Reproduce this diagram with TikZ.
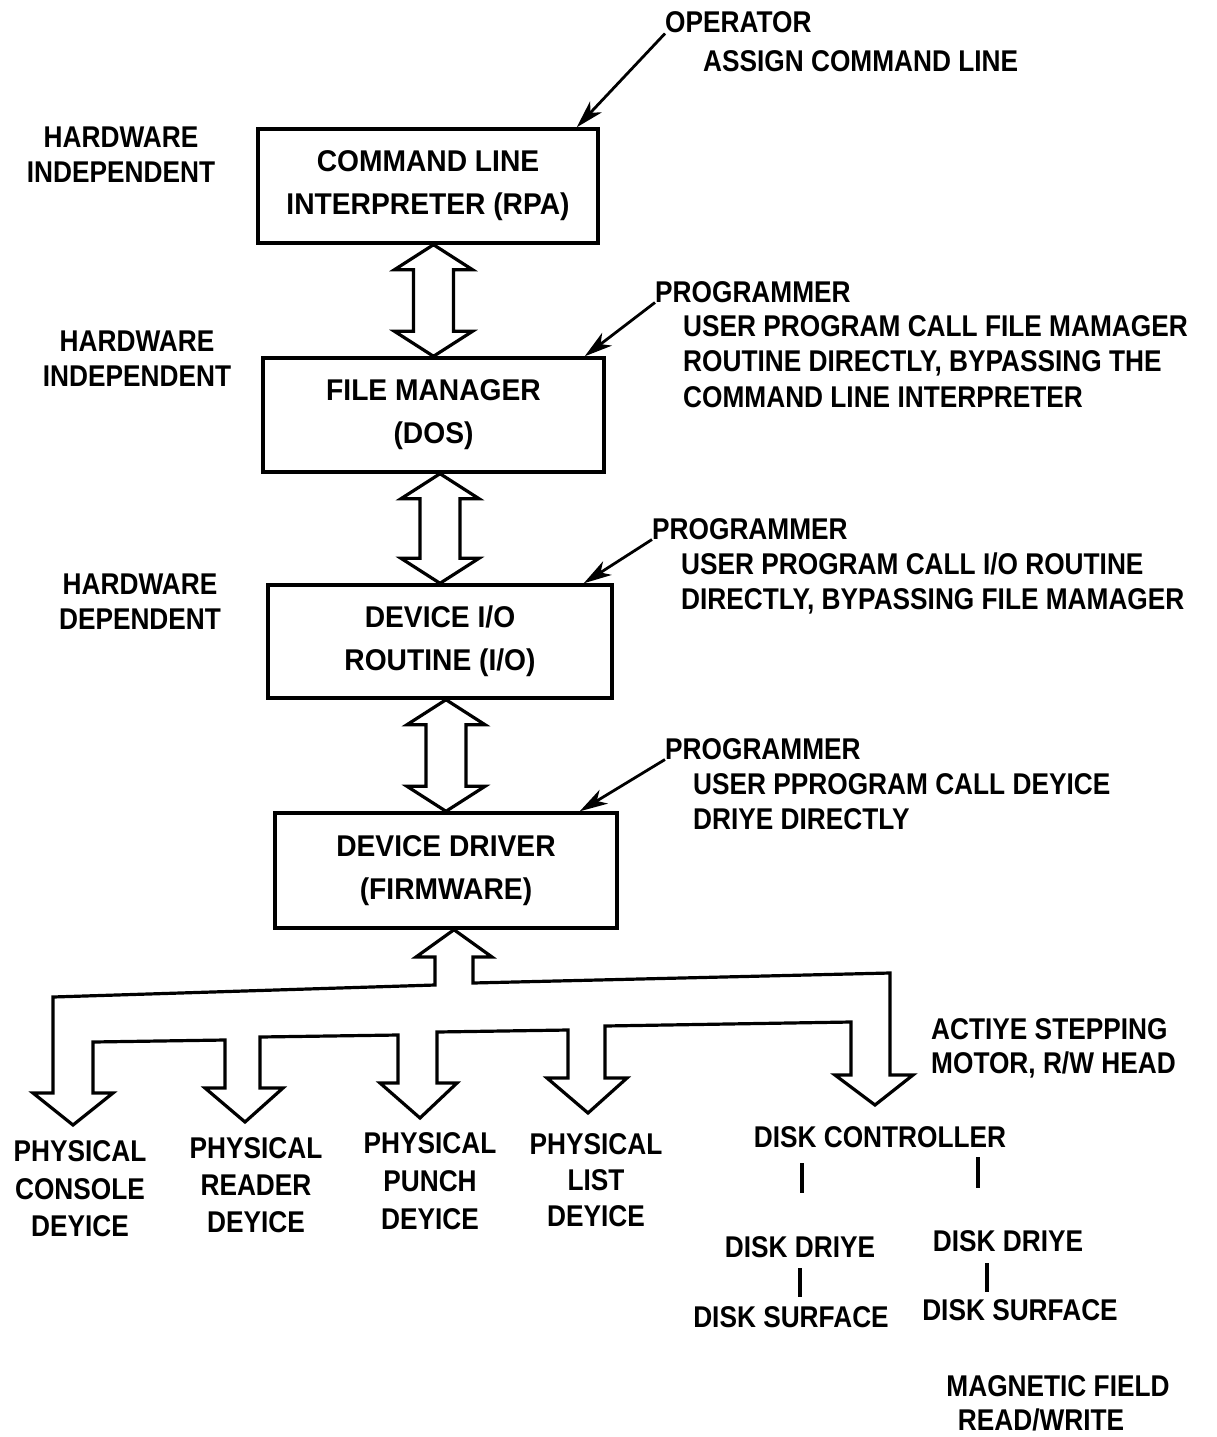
\documentclass[tikz,border=0pt]{standalone}
\usepackage{fontspec}
\newfontfamily\labfont{Liberation Sans}[FakeStretch=0.875]
\newfontfamily\boxfont{Liberation Sans}[FakeStretch=0.94]
\usetikzlibrary{arrows.meta,calc}
\newcommand\dblarrow[2]{%
  \draw[hollow] let \p1=(#1.south), \p2=(#2.north) in
   (\x2,\y1) -- (\x2+39pt,\y1-25pt) -- (\x2+20pt,\y1-25pt) -- (\x2+20pt,\y2+25pt)
   -- (\x2+39pt,\y2+25pt) -- (\x2,\y2) -- (\x2-39pt,\y2+25pt) -- (\x2-20pt,\y2+25pt)
   -- (\x2-20pt,\y1-25pt) -- (\x2-39pt,\y1-25pt) -- cycle;}
\begin{document}
\begin{tikzpicture}[x=1pt,y=-1pt,
  lab/.style={font=\labfont\bfseries\fontsize{30}{#1}\selectfont, inner sep=0pt, align=center},
  lab/.default=35,
  lw/.style={font=\labfont\bfseries\fontsize{30}{35}\selectfont, inner sep=0pt, anchor=base west},
  box/.style={draw, line width=3.4pt, inner sep=0pt, align=center,
    font=\boxfont\bfseries\fontsize{30}{43}\selectfont},
  hollow/.style={draw, line width=3.2pt, line join=miter, fill=white},
  callout/.style={line width=2.8pt, -{Stealth[length=28pt,width=16pt,inset=8pt]}},
  bar/.style={line width=4pt}]
\useasboundingbox (0,0) rectangle (1216,1437);

% boxes
\node[box, minimum width=340pt, minimum height=114pt] (b1) at (428,186) {COMMAND LINE\\INTERPRETER (RPA)};
\node[box, minimum width=341pt, minimum height=114pt] (b2) at (433.5,415) {FILE MANAGER\\(DOS)};
\node[box, minimum width=344pt, minimum height=113pt] (b3) at (440,641.5) {DEVICE I/O\\ROUTINE (I/O)};
\node[box, minimum width=342pt, minimum height=115pt] (b4) at (446,870.5) {DEVICE DRIVER\\(FIRMWARE)};

% double arrows
\dblarrow{b1}{b2}
\dblarrow{b2}{b3}
\dblarrow{b3}{b4}

% left labels
\node[lab] (hw1) at (121,155) {HARDWARE\\INDEPENDENT};
\node[lab] (hw2) at (137,359) {HARDWARE\\INDEPENDENT};
\node[lab] (hw3) at (140,602) {HARDWARE\\DEPENDENT};

% callouts
\node[lw] (op) at (665,33) {OPERATOR};
\node[lw] (opa) at (703,71) {ASSIGN COMMAND LINE};
\draw[callout] (op.south west) -- ([xshift=-23pt]b1.north east);

\node[lw] (p1) at (655,302) {PROGRAMMER};
\node[lw] (p1a) at (683,336) {USER PROGRAM CALL FILE MAMAGER};
\node[lw] (p1b) at (683,371) {ROUTINE DIRECTLY, BYPASSING THE};
\node[lw] (p1c) at (683,407) {COMMAND LINE INTERPRETER};
\draw[callout] (p1.south west) -- ([xshift=-21pt]b2.north east);

\node[lw] (p2) at (652,539) {PROGRAMMER};
\node[lw] (p2a) at (681,574) {USER PROGRAM CALL I/O ROUTINE};
\node[lw] (p2b) at (681,609) {DIRECTLY, BYPASSING FILE MAMAGER};
\draw[callout] (p2.south west) -- ([xshift=-30pt]b3.north east);

\node[lw] (p3) at (665,759) {PROGRAMMER};
\node[lw] (p3a) at (693,794) {USER PPROGRAM CALL DEYICE};
\node[lw] (p3b) at (693,829) {DRIYE DIRECTLY};
\draw[callout] (p3.south west) -- ([xshift=-39pt]b4.north east);

% bus with device arrows
\draw[hollow] ([xshift=8pt]b4.south) -- (492,957) -- (473,957) -- (473,983)
  -- (890,973) -- (890,1075) -- (913,1075) -- (875,1105) -- (835,1075) -- (851,1075)
  -- (851,1022) -- (605,1026) -- (605,1078) -- (627,1078) -- (588,1113) -- (547,1078)
  -- (568,1078) -- (568,1030) -- (437,1032) -- (437,1083) -- (457,1083) -- (420,1118)
  -- (380,1083) -- (398,1083) -- (398,1035) -- (260,1037) -- (260,1088) -- (283,1088)
  -- (245,1122) -- (205,1088) -- (225,1088) -- (225,1040) -- (93,1042) -- (93,1093)
  -- (113,1093) -- (73,1125) -- (33,1093) -- (53,1093) -- (53,997) -- (435,985)
  -- (435,957) -- (416,957) -- cycle;

\node[lw] (st1) at (931,1039) {ACTIYE STEPPING};
\node[lw] (st2) at (931,1073) {MOTOR, R/W HEAD};

% devices
\node[lab=37.5] (con) at (80,1189) {PHYSICAL\\CONSOLE\\DEYICE};
\node[lab=37] (rdr) at (256,1185) {PHYSICAL\\READER\\DEYICE};
\node[lab=38] (pun) at (430,1181) {PHYSICAL\\PUNCH\\DEYICE};
\node[lab=36] (lst) at (596,1180) {PHYSICAL\\LIST\\DEYICE};

% disk subsystem
\node[lab] (dc) at (880,1137) {DISK CONTROLLER};
\node[lab] (dd1) at (800,1247) {DISK DRIYE};
\node[lab] (dd2) at (1008,1241) {DISK DRIYE};
\node[lab] (ds1) at (791,1317) {DISK SURFACE};
\node[lab] (ds2) at (1020,1310) {DISK SURFACE};
\draw[bar] (802,1163) -- (802,1193);
\draw[bar] (978,1157) -- (978,1188);
\draw[bar] (800,1268) -- (800,1297);
\draw[bar] (987,1263) -- (987,1292);
\node[lab] (mf1) at (1058,1386) {MAGNETIC FIELD};
\node[lab] (mf2) at (1041,1420) {READ/WRITE};
\end{tikzpicture}
\end{document}
